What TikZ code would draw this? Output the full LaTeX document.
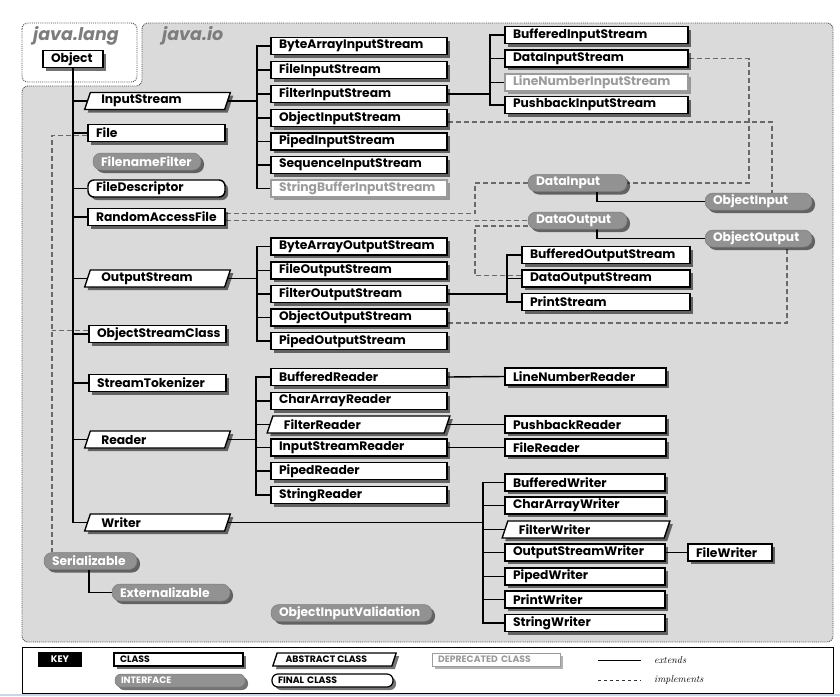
\documentclass[tikz,border=0pt]{standalone}
\usepackage{fontspec}
\setsansfont{Poppins}
\usetikzlibrary{shadows,calc}
\pgfdeclarelayer{bg}
\pgfsetlayers{bg,main}
\definecolor{regiongray}{RGB}{218,218,218}
\definecolor{ifgray}{RGB}{146,146,146}
\definecolor{dashgray}{RGB}{105,105,105}
\definecolor{depgray}{RGB}{155,155,155}
\definecolor{headgray}{RGB}{125,125,125}
\definecolor{stripblue}{RGB}{205,212,228}
\tikzset{
  lbl/.style={font=\sffamily\bfseries\fontsize{12.3}{13}\selectfont},
  keylbl/.style={font=\sffamily\bfseries\fontsize{9.3}{10}\selectfont},
  shd/.style={drop shadow={shadow xshift=3pt, shadow yshift=-3pt, fill=black, opacity=0.55}},
  lightshd/.style={drop shadow={shadow xshift=3pt, shadow yshift=-3pt, fill=black, opacity=0.3}},
  boxbase/.style={rectangle, minimum height=17pt, inner ysep=0pt, inner xsep=8pt, align=left, text width=#1},
  cls/.style={lbl, boxbase=#1, draw=black, line width=1.4pt, fill=white, shd},
  fin/.style={cls=#1, rounded corners=6pt},
  dep/.style={lbl, boxbase=#1, draw=depgray, line width=1.2pt, fill=white, text=depgray, lightshd},
  ifc/.style={lbl, boxbase=#1, rounded corners=8pt, draw=ifgray!85!black, line width=0.5pt, fill=ifgray, text=white, shd},
  keybase/.style={keylbl, rectangle, minimum height=13pt, inner ysep=0pt, inner xsep=6pt, align=left, text width=#1},
  keycls/.style={keybase=#1, draw=black, line width=1.2pt, fill=white, shd},
  keyfin/.style={keycls=#1, rounded corners=6pt},
  keydep/.style={keybase=#1, draw=depgray, line width=1pt, fill=white, text=depgray, lightshd},
  keyifc/.style={keybase=#1, rounded corners=6pt, draw=ifgray!85!black, line width=0.5pt, fill=ifgray, text=white, shd},
  ext/.style={draw=black, line width=1.4pt},
  impl/.style={draw=dashgray, line width=1.2pt, dash pattern=on 5pt off 3pt},
  region/.style={draw=black!70, line width=0.9pt, densely dotted, rounded corners=6pt},
  head/.style={font=\sffamily\bfseries\itshape\fontsize{17.5}{18}\selectfont, text=headgray, anchor=west, inner sep=0pt},
}
% abstract class: name, cx, cy, body width, height, font style, text
\newcommand\absbox[7]{%
  \fill[black, opacity=0.55] ({#2-#4/2-#5/6+3},{#3+#5/2+3}) -- ({#2-#4/2+#5/6+3},{#3-#5/2+3}) -- ({#2+#4/2+#5/6+3},{#3-#5/2+3}) -- ({#2+#4/2-#5/6+3},{#3+#5/2+3}) -- cycle;
  \draw[fill=white, line width=1.4pt] ({#2-#4/2-#5/6},{#3+#5/2}) -- ({#2-#4/2+#5/6},{#3-#5/2}) -- ({#2+#4/2+#5/6},{#3-#5/2}) -- ({#2+#4/2-#5/6},{#3+#5/2}) -- cycle;
  \node[#6, anchor=west, inner sep=0pt] at ({#2-#4/2+#5*0.8},#3) {#7};
  \node[rectangle, inner sep=0pt, minimum width=#4, minimum height=#5] (#1) at (#2,#3) {};
}
\begin{document}
\begin{tikzpicture}[x=1pt,y=-1pt]
\useasboundingbox (0,0) rectangle (840,696);
\begin{pgfonlayer}{bg}
\fill[white] (0,0) rectangle (840,696);
\draw[region, fill=white] (22,23) rectangle (137,82);
\draw[region, fill=regiongray] (142,23) -- (833,23) -- (833,642) -- (22,642) -- (22,86) -- (142,86) -- cycle;
\end{pgfonlayer}
\node[head] (hLang) at (33,36) {java.lang};
\node[head] (hIO) at (162,36) {java.io};

\node[cls=44pt] (Object) at (73,59) {Object};

% left column
\absbox{InputStream}{157.5}{101}{140}{17}{lbl}{InputStream}
\node[cls=121pt] (File) at (156.5,133) {File};
\node[ifc=92pt] (FilenameFilter) at (147,161.5) {FilenameFilter};
\node[fin=121pt] (FileDescriptor) at (156.5,188.5) {FileDescriptor};
\node[cls=121pt] (RandomAccessFile) at (156.5,217) {RandomAccessFile};
\absbox{OutputStream}{157.5}{278.5}{140}{17}{lbl}{OutputStream}
\node[cls=121pt] (ObjectStreamClass) at (157.5,334) {ObjectStreamClass};
\node[cls=121pt] (StreamTokenizer) at (157.5,383) {StreamTokenizer};
\absbox{Reader}{157.5}{439.5}{140}{17}{lbl}{Reader}
\absbox{Writer}{157.5}{522.5}{140}{17}{lbl}{Writer}

% interfaces
\node[ifc=77pt] (Serializable) at (90.5,561) {Serializable};
\node[ifc=102pt] (Externalizable) at (171,592.5) {Externalizable};
\node[ifc=145pt] (ObjectInputValidation) at (351.5,613) {ObjectInputValidation};
\node[ifc=83pt] (DataInput) at (577.5,183) {DataInput};
\node[ifc=91pt] (ObjectInput) at (758.5,201.5) {ObjectInput};
\node[ifc=83pt] (DataOutput) at (577.5,220.5) {DataOutput};
\node[ifc=91pt] (ObjectOutput) at (758.5,238.5) {ObjectOutput};

% InputStream subclasses
\node[cls=160pt] (BAIS) at (359,46) {ByteArrayInputStream};
\node[cls=160pt] (FileIS) at (359,70) {FileInputStream};
\node[cls=160pt] (FilterIS) at (359,94) {FilterInputStream};
\node[cls=160pt] (ObjIS) at (359,118) {ObjectInputStream};
\node[cls=160pt] (PipedIS) at (359,141.5) {PipedInputStream};
\node[cls=160pt] (SeqIS) at (359,165) {SequenceInputStream};
\node[dep=160pt] (SBIS) at (359,188.5) {StringBufferInputStream};
% FilterInputStream subclasses
\node[cls=167pt] (BufIS) at (596.5,35) {BufferedInputStream};
\node[cls=167pt] (DataIS) at (596.5,58.5) {DataInputStream};
\node[dep=167pt] (LNIS) at (596.5,82.5) {LineNumberInputStream};
\node[cls=167pt] (PushIS) at (596.5,105) {PushbackInputStream};
% OutputStream subclasses
\node[cls=160pt] (BAOS) at (359,246.5) {ByteArrayOutputStream};
\node[cls=160pt] (FileOS) at (359,270.5) {FileOutputStream};
\node[cls=160pt] (FilterOS) at (359,294) {FilterOutputStream};
\node[cls=160pt] (ObjOS) at (359,317.5) {ObjectOutputStream};
\node[cls=160pt] (PipedOS) at (359,341) {PipedOutputStream};
% FilterOutputStream subclasses
\node[cls=152pt] (BufOS) at (606,255) {BufferedOutputStream};
\node[cls=152pt] (DataOS) at (606,278.5) {DataOutputStream};
\node[cls=152pt] (PrintS) at (606,302) {PrintStream};
% Reader subclasses
\node[cls=160pt] (BufR) at (359,377) {BufferedReader};
\node[cls=160pt] (CharAR) at (359,401) {CharArrayReader};
\absbox{FilterR}{358.5}{424.5}{177}{17}{lbl}{FilterReader}
\node[cls=160pt] (ISR) at (359,447.5) {InputStreamReader};
\node[cls=160pt] (PipedR) at (359,471) {PipedReader};
\node[cls=160pt] (StringR) at (359,495) {StringReader};
\node[cls=145pt] (LNR) at (585.5,376.5) {LineNumberReader};
\node[cls=145pt] (PushR) at (585.5,424.5) {PushbackReader};
\node[cls=145pt] (FileR) at (585.5,447.5) {FileReader};
% Writer subclasses
\node[cls=144pt] (BufW) at (585,482.5) {BufferedWriter};
\node[cls=144pt] (CharAW) at (585,505.5) {CharArrayWriter};
\absbox{FilterW}{586}{529.5}{162}{17}{lbl}{FilterWriter}
\node[cls=144pt] (OSW) at (585,552.5) {OutputStreamWriter};
\node[cls=144pt] (PipedW) at (585,576.5) {PipedWriter};
\node[cls=144pt] (PrintW) at (585,599.5) {PrintWriter};
\node[cls=144pt] (StringW) at (585,623) {StringWriter};
\node[cls=68pt] (FileW) at (730,552.5) {FileWriter};

% connectors
\begin{pgfonlayer}{bg}
\foreach \n in {InputStream,File,FileDescriptor,RandomAccessFile,OutputStream,ObjectStreamClass,StreamTokenizer,Reader}
  \draw[ext] (Object.south |- \n.west) -- (\n.west);
\draw[ext] (Object.south) |- (Writer.west);
\coordinate (isbus) at (257,0);
\foreach \n in {BAIS,FileIS,FilterIS,ObjIS,PipedIS,SeqIS,SBIS}
  \draw[ext] (InputStream.east) -| (isbus |- \n.west) -- (\n.west);
\coordinate (fisbus) at (490,0);
\foreach \n in {BufIS,DataIS,LNIS,PushIS}
  \draw[ext] (FilterIS.east) -| (fisbus |- \n.west) -- (\n.west);
\coordinate (osbus) at (257,0);
\foreach \n in {BAOS,FileOS,FilterOS,ObjOS,PipedOS}
  \draw[ext] (OutputStream.east) -| (osbus |- \n.west) -- (\n.west);
\coordinate (fosbus) at (507,0);
\foreach \n in {BufOS,DataOS,PrintS}
  \draw[ext] (FilterOS.east) -| (fosbus |- \n.west) -- (\n.west);
\coordinate (rbus) at (256,0);
\foreach \n in {BufR,CharAR,FilterR,ISR,PipedR,StringR}
  \draw[ext] (Reader.east) -| (rbus |- \n.west) -- (\n.west);
\draw[ext] (BufR.east) -- (LNR.west);
\draw[ext] (FilterR.east) -- (PushR.west);
\draw[ext] (ISR.east) -- (FileR.west);
\coordinate (wbus) at (483,0);
\foreach \n in {BufW,CharAW,FilterW,OSW,PipedW,PrintW,StringW}
  \draw[ext] (Writer.east) -| (wbus |- \n.west) -- (\n.west);
\draw[ext] (OSW.east) -- (FileW.west);
\draw[ext] ([xshift=19.5pt]DataInput.south) |- (ObjectInput.west);
\draw[ext] ([xshift=19.5pt]DataOutput.south) |- (ObjectOutput.west);
\draw[ext] ([xshift=-1.5pt]Serializable.south) |- (Externalizable.west);
% implements
\coordinate (serx) at (52,0);
\draw[impl] ([yshift=-2.5pt]File.west) -| (serx |- Serializable.north);
\path ([yshift=3.5pt]ObjectStreamClass.west) coordinate (oscw);
\draw[impl] (oscw) -- (oscw -| serx);
\coordinate (dox) at (475,0);
\draw[impl] ([yshift=3.5pt]RandomAccessFile.east) -| (dox |- DataInput.west) -- (DataInput.west);
\path ([yshift=-3.5pt]RandomAccessFile.east) coordinate (rafe);
\draw[impl] (rafe) -- (rafe -| DataOutput.west);
\path ([yshift=-5.5pt]DataOutput.west) coordinate (dow);
\draw[impl] ([yshift=3pt]DataOS.west) -| (dox |- dow) -- (dow);
\coordinate (dix) at (749,0);
\draw[impl] (DataIS.east) -| (dix |- DataInput.east) -- (DataInput.east);
\draw[impl] ([yshift=-4pt]ObjIS.east) -| ([xshift=13.5pt]ObjectInput.north);
\draw[impl] ([yshift=-5.5pt]ObjOS.east) -| ([xshift=28.5pt]ObjectOutput.south);
\end{pgfonlayer}

% key
\draw[line width=1pt, fill=white] (22,647) rectangle (833,693);
\fill[stripblue] (0,694) rectangle (840,696);
\node[fill=black, text=white, font=\sffamily\bfseries\fontsize{9.5}{10}\selectfont, minimum width=44pt, minimum height=15pt, inner sep=0pt] (keyKey) at (60,659.5) {KEY};
\node[keycls=117pt] (keyClass) at (178.5,659.5) {CLASS};
\node[keyifc=118pt] (keyInterface) at (180,680.5) {INTERFACE};
\absbox{keyAbstract}{334.5}{659.5}{119}{13}{keylbl}{ABSTRACT CLASS}
\node[keyfin=109pt] (keyFinal) at (332.5,680.5) {FINAL CLASS};
\node[keydep=116pt] (keyDep) at (496,659.5) {DEPRECATED CLASS};
\coordinate (keyE1) at (598,660);
\coordinate (keyE2) at (641,660);
\draw[draw=black, line width=0.8pt] (keyE1) -- (keyE2);
\node[font=\rmfamily\itshape\fontsize{10}{11}\selectfont, anchor=west, inner sep=0pt] (keyExt) at (654,660) {extends};
\coordinate (keyI1) at (598,680);
\coordinate (keyI2) at (641,680);
\draw[draw=black!80, line width=0.8pt, dash pattern=on 3pt off 3pt] (keyI1) -- (keyI2);
\node[font=\rmfamily\itshape\fontsize{10}{11}\selectfont, anchor=west, inner sep=0pt] (keyImp) at (654,680) {implements};
\end{tikzpicture}
\end{document}
